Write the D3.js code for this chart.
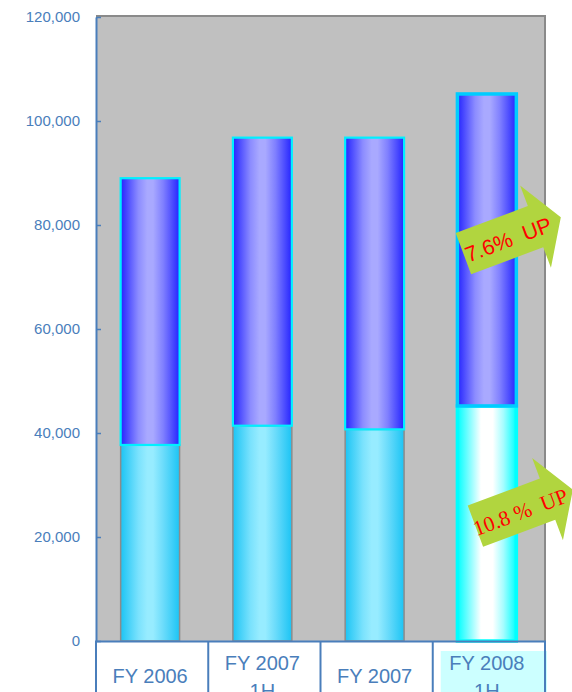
<!DOCTYPE html>
<html>
<head>
<meta charset="utf-8">
<script src="https://cdn.jsdelivr.net/npm/d3@7/dist/d3.min.js"></script>
<style>
  html, body { margin: 0; padding: 0; background: #ffffff; }
  svg { display: block; }
</style>
</head>
<body>
<script>
// ---- data ----
const categories = ["FY 2006", "FY 2007 1H", "FY 2007", "FY 2008 1H"];
const categoryLines = [["FY 2006"], ["FY 2007", "1H"], ["FY 2007"], ["FY 2008", "1H"]];
const lowerValues = [37700, 41400, 40700, 45200];
const totalValues = [89000, 96800, 96800, 105200];
const yTicks = [0, 20000, 40000, 60000, 80000, 100000, 120000];
const highlightCategory = "FY 2008 1H";
const annLabels = ["7.6%  UP", "10.8 %  UP"];
const annValues = [74500, 22100];

// ---- layout ----
const W = 572, H = 692;
const plot = { left: 96, right: 545, top: 16, bottom: 641 };

const svg = d3.select("body").append("svg")
  .attr("width", W).attr("height", H)
  .attr("viewBox", `0 0 ${W} ${H}`);

const y = d3.scaleLinear().domain([0, 120000]).range([plot.bottom, plot.top + 1]);
const x = d3.scaleBand().domain(categories).range([plot.left - 2, plot.right - 2])
  .paddingInner(0.475).paddingOuter(0.2375);
const xt = d3.scaleBand().domain(categories).range([plot.left, plot.right]).padding(0);

// gradients
const defs = svg.append("defs");
function grad(id, stops) {
  const g = defs.append("linearGradient").attr("id", id)
    .attr("x1", "0%").attr("x2", "100%").attr("y1", "0%").attr("y2", "0%");
  stops.forEach(s => g.append("stop").attr("offset", s[0]).attr("stop-color", s[1]));
}
grad("gUpper", [[0, "#2424ff"], [0.3, "#8c8cff"], [0.45, "#a9a9ff"], [0.55, "#a9a9ff"], [0.72, "#8080ff"], [1, "#2424ff"]]);
grad("gLower", [[0, "#1cc4f4"], [0.3, "#7ae2fd"], [0.45, "#97ecff"], [0.55, "#97ecff"], [0.72, "#6cdcfb"], [1, "#1cc4f4"]]);
grad("gLowerHi", [[0, "#00ffff"], [0.25, "#9ffdff"], [0.4, "#ffffff"], [0.6, "#ffffff"], [0.78, "#a6fdff"], [1, "#00ffff"]]);

// plot background
svg.append("rect")
  .attr("x", plot.left).attr("y", plot.top)
  .attr("width", plot.right - plot.left).attr("height", plot.bottom - plot.top)
  .attr("fill", "#c0c0c0");

// top / right border
svg.append("path")
  .attr("d", `M${plot.left},${plot.top}H${plot.right}V${plot.bottom}`)
  .attr("fill", "none").attr("stroke", "#8a8a8a").attr("stroke-width", 2);

// bars
const bars = svg.append("g");
categories.forEach((c, i) => {
  const hi = c === highlightCategory;
  const bx = x(c), bw = x.bandwidth();
  // lower
  bars.append("rect")
    .attr("x", bx).attr("width", bw)
    .attr("y", y(lowerValues[i])).attr("height", y(0) - y(lowerValues[i]))
    .attr("fill", hi ? "url(#gLowerHi)" : "url(#gLower)")
    .attr("stroke", hi ? "#00ffff" : "#8c8c8c")
    .attr("stroke-width", hi ? 3.5 : 1.5);
  // upper
  bars.append("rect")
    .attr("x", bx).attr("width", bw)
    .attr("y", y(totalValues[i])).attr("height", y(lowerValues[i]) - y(totalValues[i]))
    .attr("fill", "url(#gUpper)")
    .attr("stroke", hi ? "#00ccff" : "#00f0ff")
    .attr("stroke-width", hi ? 3.5 : 2.2);
});

// highlight label box
svg.append("rect")
  .attr("x", xt(highlightCategory) + 8).attr("y", 651)
  .attr("width", xt.bandwidth() - 6).attr("height", H - 651)
  .attr("fill", "#ccffff");

// y axis
const axisColor = "#4a7ebb";
const yAxis = d3.axisLeft(y).tickValues(yTicks).tickFormat(d3.format(","))
  .tickSizeInner(-5).tickSizeOuter(0).tickPadding(16);
const gy = svg.append("g").attr("transform", `translate(${plot.left},0)`).call(yAxis);
gy.select(".domain").attr("stroke", axisColor).attr("stroke-width", 2);
gy.selectAll(".tick line").attr("stroke", axisColor).attr("stroke-width", 1.5);
gy.selectAll(".tick text")
  .attr("fill", axisColor)
  .style("font-family", "'Liberation Sans', Arial, sans-serif")
  .style("font-size", "15px");

// category table lines
const tbl = svg.append("g").attr("stroke", axisColor).attr("stroke-width", 2);
tbl.append("line").attr("x1", plot.left - 1).attr("x2", plot.right + 1)
  .attr("y1", plot.bottom + 0.5).attr("y2", plot.bottom + 0.5);
const edges = categories.map(c => xt(c)).concat([xt(categories[categories.length - 1]) + xt.bandwidth()]);
edges.forEach(ex => {
  tbl.append("line").attr("x1", ex).attr("x2", ex).attr("y1", plot.bottom).attr("y2", H);
});

// category labels
categories.forEach((c, i) => {
  const cx = x(c) + x.bandwidth() / 2;
  const lines = categoryLines[i];
  const t = svg.append("text")
    .attr("text-anchor", "middle")
    .attr("fill", axisColor)
    .style("font-family", "'Liberation Sans', Arial, sans-serif")
    .style("font-size", "20px");
  if (lines.length === 1) {
    t.append("tspan").attr("x", cx).attr("y", 683).text(lines[0]);
  } else {
    lines.forEach((ln, k) => t.append("tspan").attr("x", cx).attr("y", 670 + k * 28).text(ln));
  }
});

// annotation arrows
const arrowPts = [[0, -22], [77, -22], [77, -44], [104, 0], [77, 44], [77, 22], [0, 22]];
const annFonts = ["'Liberation Sans', Arial, sans-serif", "'Liberation Serif', 'Times New Roman', serif"];
const annDx = [6, 18];
const lastBar = categories[categories.length - 1];
annLabels.forEach((lab, i) => {
  const ax = x(lastBar) + annDx[i];
  const ay = y(annValues[i]);
  const g = svg.append("g").attr("transform", `translate(${ax},${ay}) rotate(-20.5)`);
  g.append("polygon").attr("points", arrowPts.map(p => p.join(",")).join(" "))
    .attr("fill", "#b1d53f");
  g.append("text")
    .attr("x", 47).attr("y", 3)
    .attr("text-anchor", "middle").attr("dominant-baseline", "central")
    .attr("fill", "#ff0000")
    .style("font-family", annFonts[i])
    .style("font-size", "21.5px")
    .style("white-space", "pre")
    .attr("xml:space", "preserve")
    .text(lab);
});
</script>
</body>
</html>
